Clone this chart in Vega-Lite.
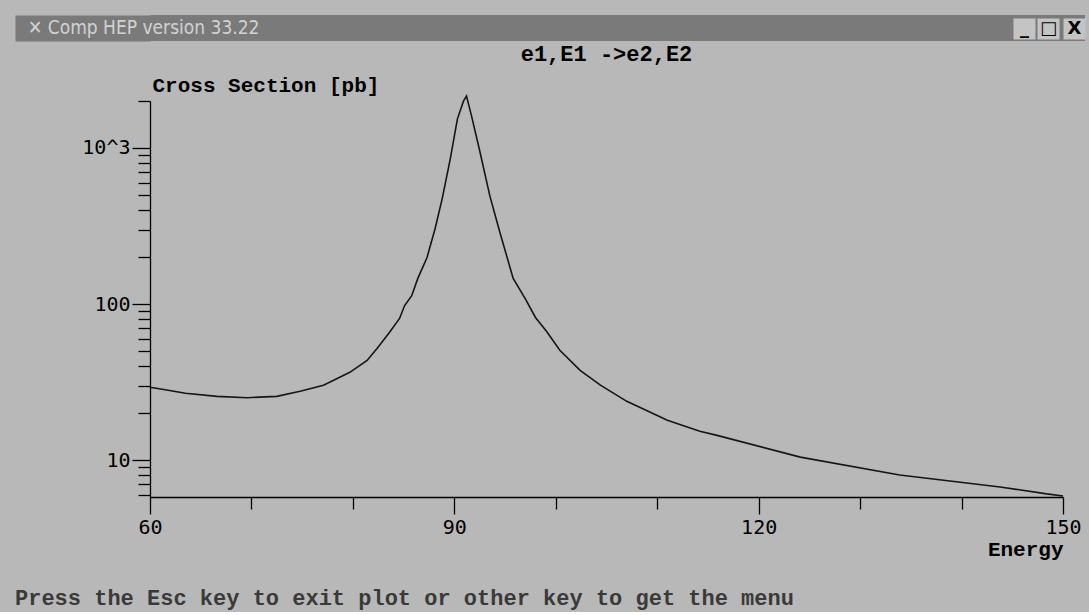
{
  "$schema": "https://vega.github.io/schema/vega-lite/v6.json",
  "background": "#b8b8b8",
  "padding": {"left": 2, "top": 7, "right": 4, "bottom": 3},
  "spacing": 9,
  "config": {"view": {"stroke": null}},
  "vconcat": [
    {
      "width": 935,
      "height": 26,
      "view": {"fill": "#7a7a7a", "stroke": null},
      "data": {"values": [{"label": "✕ Comp HEP version 33.22", "pos": 0}]},
      "title": {
        "text": "e1,E1 ->e2,E2",
        "orient": "bottom",
        "anchor": "middle",
        "dx": -11,
        "offset": -6,
        "font": "Liberation Mono",
        "fontSize": 22,
        "fontWeight": "bold",
        "color": "#000000"
      },
      "mark": {"type": "text", "align": "left", "baseline": "middle", "font": "Liberation Sans Narrow, DejaVu Sans Condensed, Roboto, sans-serif", "fontSize": 19, "color": "#d2d2d2", "dx": -122},
      "encoding": {
        "x": {
          "field": "pos",
          "type": "quantitative",
          "scale": {"domain": [0, 1]},
          "axis": {
            "values": [0.9348, 0.9604, 0.9882],
            "labelExpr": "datum.value < 0.95 ? '_' : datum.value < 0.97 ? '□' : 'X'",
            "domain": false,
            "grid": false,
            "title": null,
            "offset": -2,
            "tickSize": -21,
            "tickWidth": 22,
            "tickColor": "#c4c4c4",
            "tickCap": "butt",
            "labelOverlap": false,
            "labelBound": false,
            "labelFlush": false,
            "labelPadding": 1,
            "labelFont": "DejaVu Sans",
            "labelFontSize": 18,
            "labelFontWeight": "bold",
            "labelColor": "#000000"
          }
        },
        "y": {
          "field": "pos",
          "type": "quantitative",
          "scale": {"domain": [-1, 1]},
          "axis": {
            "values": [0],
            "domain": false,
            "labels": false,
            "grid": false,
            "title": null,
            "tickSize": 135,
            "tickWidth": 26,
            "tickColor": "#7a7a7a",
            "tickCap": "butt"
          }
        },
        "text": {"field": "label"}
      }
    },
    {
      "width": 913,
      "height": 396,
      "data": {"values": [
        {"energy": 60, "sigma": 29.3},
        {"energy": 61.5, "sigma": 28.2},
        {"energy": 63.5, "sigma": 26.8},
        {"energy": 66.6, "sigma": 25.6},
        {"energy": 69.6, "sigma": 25.1},
        {"energy": 72.5, "sigma": 25.6},
        {"energy": 74.8, "sigma": 27.6},
        {"energy": 77.1, "sigma": 30.2},
        {"energy": 79.7, "sigma": 36.5},
        {"energy": 81.4, "sigma": 43.5},
        {"energy": 82.4, "sigma": 52},
        {"energy": 83.6, "sigma": 65.8},
        {"energy": 84.6, "sigma": 80.8},
        {"energy": 85.1, "sigma": 97.8},
        {"energy": 85.8, "sigma": 113},
        {"energy": 86.4, "sigma": 146},
        {"energy": 87.3, "sigma": 198},
        {"energy": 88.1, "sigma": 304},
        {"energy": 88.8, "sigma": 472},
        {"energy": 89.6, "sigma": 851},
        {"energy": 90.3, "sigma": 1531},
        {"energy": 90.9, "sigma": 1995},
        {"energy": 91.2, "sigma": 2148},
        {"energy": 91.7, "sigma": 1600},
        {"energy": 92.5, "sigma": 960},
        {"energy": 93.5, "sigma": 493},
        {"energy": 94.5, "sigma": 286},
        {"energy": 95.8, "sigma": 146},
        {"energy": 97.0, "sigma": 108},
        {"energy": 98.0, "sigma": 82},
        {"energy": 99.1, "sigma": 66.7},
        {"energy": 100.4, "sigma": 50.5},
        {"energy": 102.4, "sigma": 37.6},
        {"energy": 104.4, "sigma": 30.2},
        {"energy": 107.0, "sigma": 23.8},
        {"energy": 111.0, "sigma": 18.0},
        {"energy": 114.2, "sigma": 15.3},
        {"energy": 115.9, "sigma": 14.4},
        {"energy": 124.1, "sigma": 10.45},
        {"energy": 133.9, "sigma": 8.03},
        {"energy": 143.8, "sigma": 6.73},
        {"energy": 148.4, "sigma": 6.07},
        {"energy": 150, "sigma": 5.89}
      ]},
      "title": {
        "text": "Press the Esc key to exit plot or other key to get the menu",
        "orient": "bottom",
        "anchor": "start",
        "frame": "group",
        "dx": -135,
        "offset": 29,
        "font": "Liberation Mono",
        "fontSize": 22,
        "fontWeight": "bold",
        "color": "#3a3a3a"
      },
      "mark": {"type": "line", "color": "#151515", "strokeWidth": 1.6, "clip": false},
      "encoding": {
        "x": {
          "field": "energy",
          "type": "quantitative",
          "scale": {"domain": [60, 150], "nice": false, "zero": false},
          "axis": {
            "values": [60, 70, 80, 90, 100, 110, 120, 130, 140, 150],
            "labelExpr": "datum.value % 30 === 0 ? format(datum.value, 'd') : ''",
            "labelOverlap": false,
            "labelBound": false,
            "labelFlush": false,
            "grid": false,
            "domainColor": "#000000",
            "domainWidth": 1.3,
            "tickColor": "#000000",
            "tickWidth": 1.3,
            "tickSize": {"condition": {"test": "datum.value % 30 === 0", "value": 17}, "value": 12},
            "labelPadding": 3,
            "labelFont": "DejaVu Sans Mono",
            "labelFontSize": 20,
            "labelColor": "#000000",
            "title": "Energy",
            "titleFont": "Liberation Mono",
            "titleFontSize": 21,
            "titleFontWeight": "bold",
            "titleColor": "#000000",
            "titleAlign": "right",
            "titleAnchor": "end",
            "titleBaseline": "alphabetic",
            "titleX": 913,
            "titleY": 58
          }
        },
        "y": {
          "field": "sigma",
          "type": "quantitative",
          "scale": {"type": "log", "domain": [5.8, 2000], "nice": false},
          "axis": {
            "values": [6, 7, 8, 9, 10, 20, 30, 40, 50, 60, 70, 80, 90, 100, 200, 300, 400, 500, 600, 700, 800, 900, 1000, 2000],
            "labelExpr": "datum.value == 1000 ? '10^3' : datum.value == 100 ? '100' : datum.value == 10 ? '10' : ''",
            "labelOverlap": false,
            "labelBound": false,
            "labelFlush": false,
            "grid": false,
            "domainColor": "#000000",
            "domainWidth": 1.3,
            "tickColor": "#000000",
            "tickWidth": 1.3,
            "tickSize": {"condition": {"test": "datum.value == 10 || datum.value == 100 || datum.value == 1000", "value": 18}, "value": 12},
            "labelPadding": 2,
            "labelFont": "DejaVu Sans Mono",
            "labelFontSize": 20,
            "labelColor": "#000000",
            "title": "Cross Section [pb]",
            "titleFont": "Liberation Mono",
            "titleFontSize": 21,
            "titleFontWeight": "bold",
            "titleColor": "#000000",
            "titleAngle": 0,
            "titleAlign": "left",
            "titleBaseline": "alphabetic",
            "titleX": 2,
            "titleY": -10
          }
        }
      }
    }
  ]
}
